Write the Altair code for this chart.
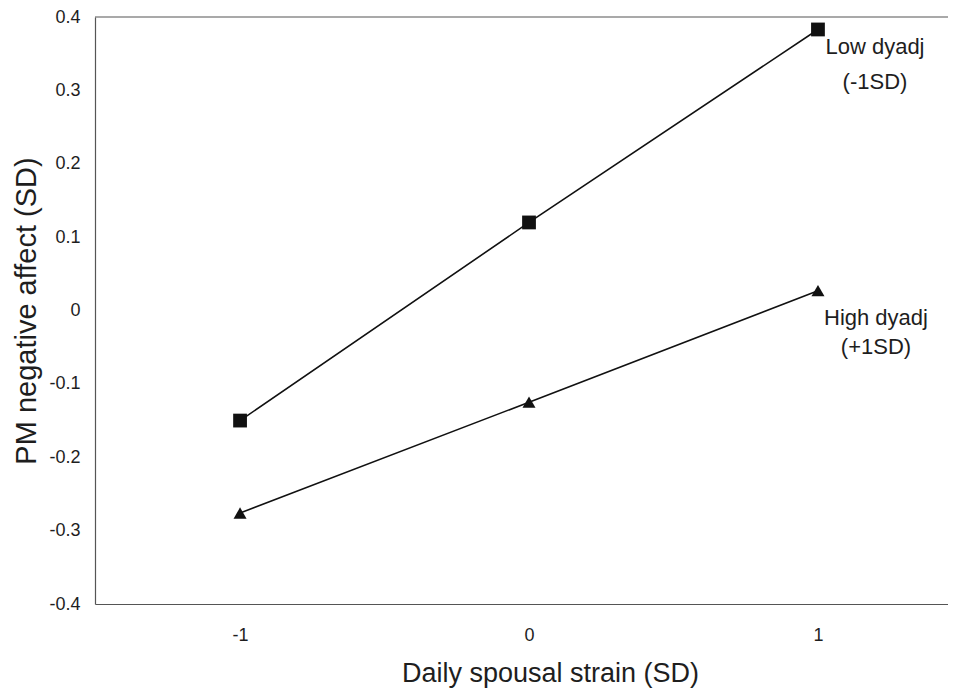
import altair as alt
import pandas as pd

# Data
x_vals = [-1, 0, 1]
low_dyadj = [-0.15, 0.12, 0.383]
high_dyadj = [-0.276, -0.125, 0.027]
x_ticks = [-1, 0, 1]
y_ticks = [-0.4, -0.3, -0.2, -0.1, 0, 0.1, 0.2, 0.3, 0.4]

low_df = pd.DataFrame({"x": x_vals, "y": low_dyadj})
high_df = pd.DataFrame({"x": x_vals, "y": high_dyadj})

W, H = 853, 587
FONT = "Liberation Sans"
INK = "#1e1e1e"

xscale = alt.Scale(domain=[-1.502, 1.45], nice=False, zero=False)
yscale = alt.Scale(domain=[-0.4, 0.4], nice=False, zero=False)

xenc = alt.X("x:Q", scale=xscale, axis=alt.Axis(
    values=x_ticks,
    labelExpr="datum.value < 0 ? '-' + format(-datum.value, 'd') : format(datum.value, 'd')",
    title="Daily spousal strain (SD)",
    grid=False, ticks=False, domain=True, domainColor="#555", domainWidth=1.2,
    labelFont=FONT, labelFontSize=18, labelColor=INK, labelPadding=22,
    titleFont=FONT, titleFontSize=27, titleFontWeight="normal", titleColor=INK,
    titlePadding=16, titleX=455, titleAlign="center"))
yenc = alt.Y("y:Q", scale=yscale, axis=alt.Axis(
    values=y_ticks,
    labelExpr="datum.value == 0 ? '0' : (datum.value < 0 ? '-' + format(-datum.value, '.1f') : format(datum.value, '.1f'))",
    title="PM negative affect (SD)",
    grid=False, ticks=False, domain=True, domainColor="#555", domainWidth=1.2,
    labelFont=FONT, labelFontSize=18, labelColor=INK, labelPadding=15,
    titleFont=FONT, titleFontSize=29, titleFontWeight="normal", titleColor=INK,
    titlePadding=7))

low_line = alt.Chart(low_df).mark_line(color="#111", strokeWidth=1.6).encode(x=xenc, y=yenc)
low_pts = alt.Chart(low_df).mark_point(shape="square", filled=True, size=190, color="#111", opacity=1).encode(x="x:Q", y="y:Q")
high_line = alt.Chart(high_df).mark_line(color="#111", strokeWidth=1.6).encode(x="x:Q", y="y:Q")
high_pts = alt.Chart(high_df).mark_point(shape="triangle-up", filled=True, size=170, color="#111", opacity=1).encode(x="x:Q", y="y:Q")

top_border = alt.Chart(low_df.head(1)).mark_rule(color="#555", strokeWidth=1.2).encode(
    x=alt.value(0), x2=alt.value(W), y=alt.value(0))

last_low = low_df.tail(1)
last_high = high_df.tail(1)
txt = dict(font=FONT, fontSize=22, color=INK, align="center", baseline="middle")
lab1 = alt.Chart(last_low).mark_text(dx=57, dy=18, text="Low dyadj", **txt).encode(x="x:Q", y="y:Q")
lab2 = alt.Chart(last_low).mark_text(dx=57, dy=53, text="(-1SD)", **txt).encode(x="x:Q", y="y:Q")
lab3 = alt.Chart(last_high).mark_text(dx=58, dy=27, text="High dyadj", **txt).encode(x="x:Q", y="y:Q")
lab4 = alt.Chart(last_high).mark_text(dx=58, dy=56, text="(+1SD)", **txt).encode(x="x:Q", y="y:Q")

chart = alt.layer(top_border, low_line, high_line, low_pts, high_pts, lab1, lab2, lab3, lab4).properties(
    width=W, height=H,
    autosize=alt.AutoSizeParams(type="none"),
    padding={"left": 87, "top": 9, "right": 0, "bottom": 84},
    background="white",
).configure_view(strokeWidth=0)

chart.save("out.html", embed_options={"renderer": "svg", "actions": False})
